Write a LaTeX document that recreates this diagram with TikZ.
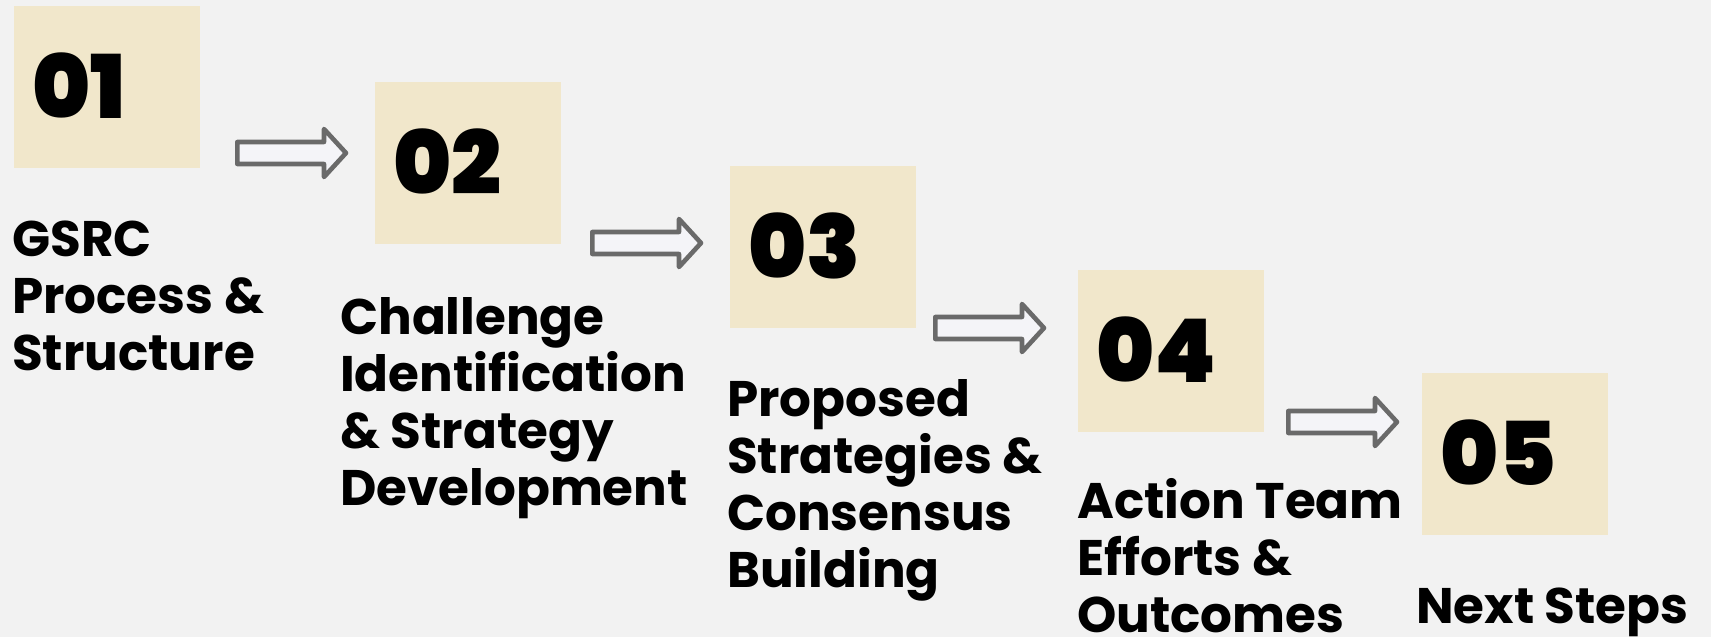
\documentclass[tikz,border=0pt]{standalone}
\usepackage{fontspec}
\setmainfont{Poppins}
\IfFontExistsTF{Poppins ExtraBold}{\newfontfamily\numfont{Poppins ExtraBold}}{\newfontfamily\numfont{Poppins}[UprightFont=*,BoldFont=* Bold]}
\usetikzlibrary{calc}
\definecolor{bgc}{HTML}{F2F2F2}
\definecolor{boxc}{HTML}{F1E7CB}
\definecolor{arrowline}{HTML}{6A6A6A}
\definecolor{arrowfill}{HTML}{F4F4F8}
\tikzset{
  numbox/.style={fill=boxc, draw=none, minimum width=186pt, minimum height=162pt, inner sep=0pt, anchor=north west},
  numtext/.style={font=\fontsize{88}{88}\numfont\bfseries, inner sep=0pt, anchor=base west, text=black},
  steplabel/.style={font=\fontsize{50}{57}\selectfont\bfseries, align=left, inner sep=0pt, anchor=base west, text=black},
  blockarrow/.pic={
    \draw[line width=4.6pt, draw=arrowline, fill=arrowfill, line join=round]
      (2.3,-11) -- (89,-11) -- (89,-24) -- (111,0) -- (89,24) -- (89,11) -- (2.3,11) -- cycle;
  }
}
\begin{document}
\begin{tikzpicture}[x=1pt,y=-1pt]
\fill[bgc] (0,0) rectangle (1711,637);
\useasboundingbox (0,0) rectangle (1711,637);
% boxes
\node[numbox] (b1) at (14,6) {};
\node[numbox] (b2) at (375,82) {};
\node[numbox] (b3) at (730,166) {};
\node[numbox] (b4) at (1078,270) {};
\node[numbox] (b5) at (1422,373) {};
% numbers
\node[numtext] (n1) at ($(b1.north west)+(18,112)$) {01};
\node[numtext] (n2) at ($(b2.north west)+(18,112)$) {02};
\node[numtext] (n3) at ($(b3.north west)+(18,112)$) {03};
\node[numtext] (n4) at ($(b4.north west)+(18,112)$) {04};
\node[numtext] (n5) at ($(b5.north west)+(18,112)$) {05};
% labels (anchor = baseline of last line)
\node[steplabel] (l1) at (12,370) {GSRC\\Process \&\\Structure};
\node[steplabel] (l2) at (340,505) {Challenge\\Identification\\\& Strategy\\Development};
\node[steplabel] (l3) at (727,587) {Proposed\\Strategies \&\\Consensus\\Building};
\node[steplabel] (l4) at (1077,632) {Action Team\\Efforts \&\\Outcomes};
\node[steplabel] (l5) at (1416,623) {Next Steps};
% arrows
\pic at (235,153) {blockarrow};
\pic at (590,243) {blockarrow};
\pic at (933,328) {blockarrow};
\pic at (1286,422) {blockarrow};
\end{tikzpicture}
\end{document}
